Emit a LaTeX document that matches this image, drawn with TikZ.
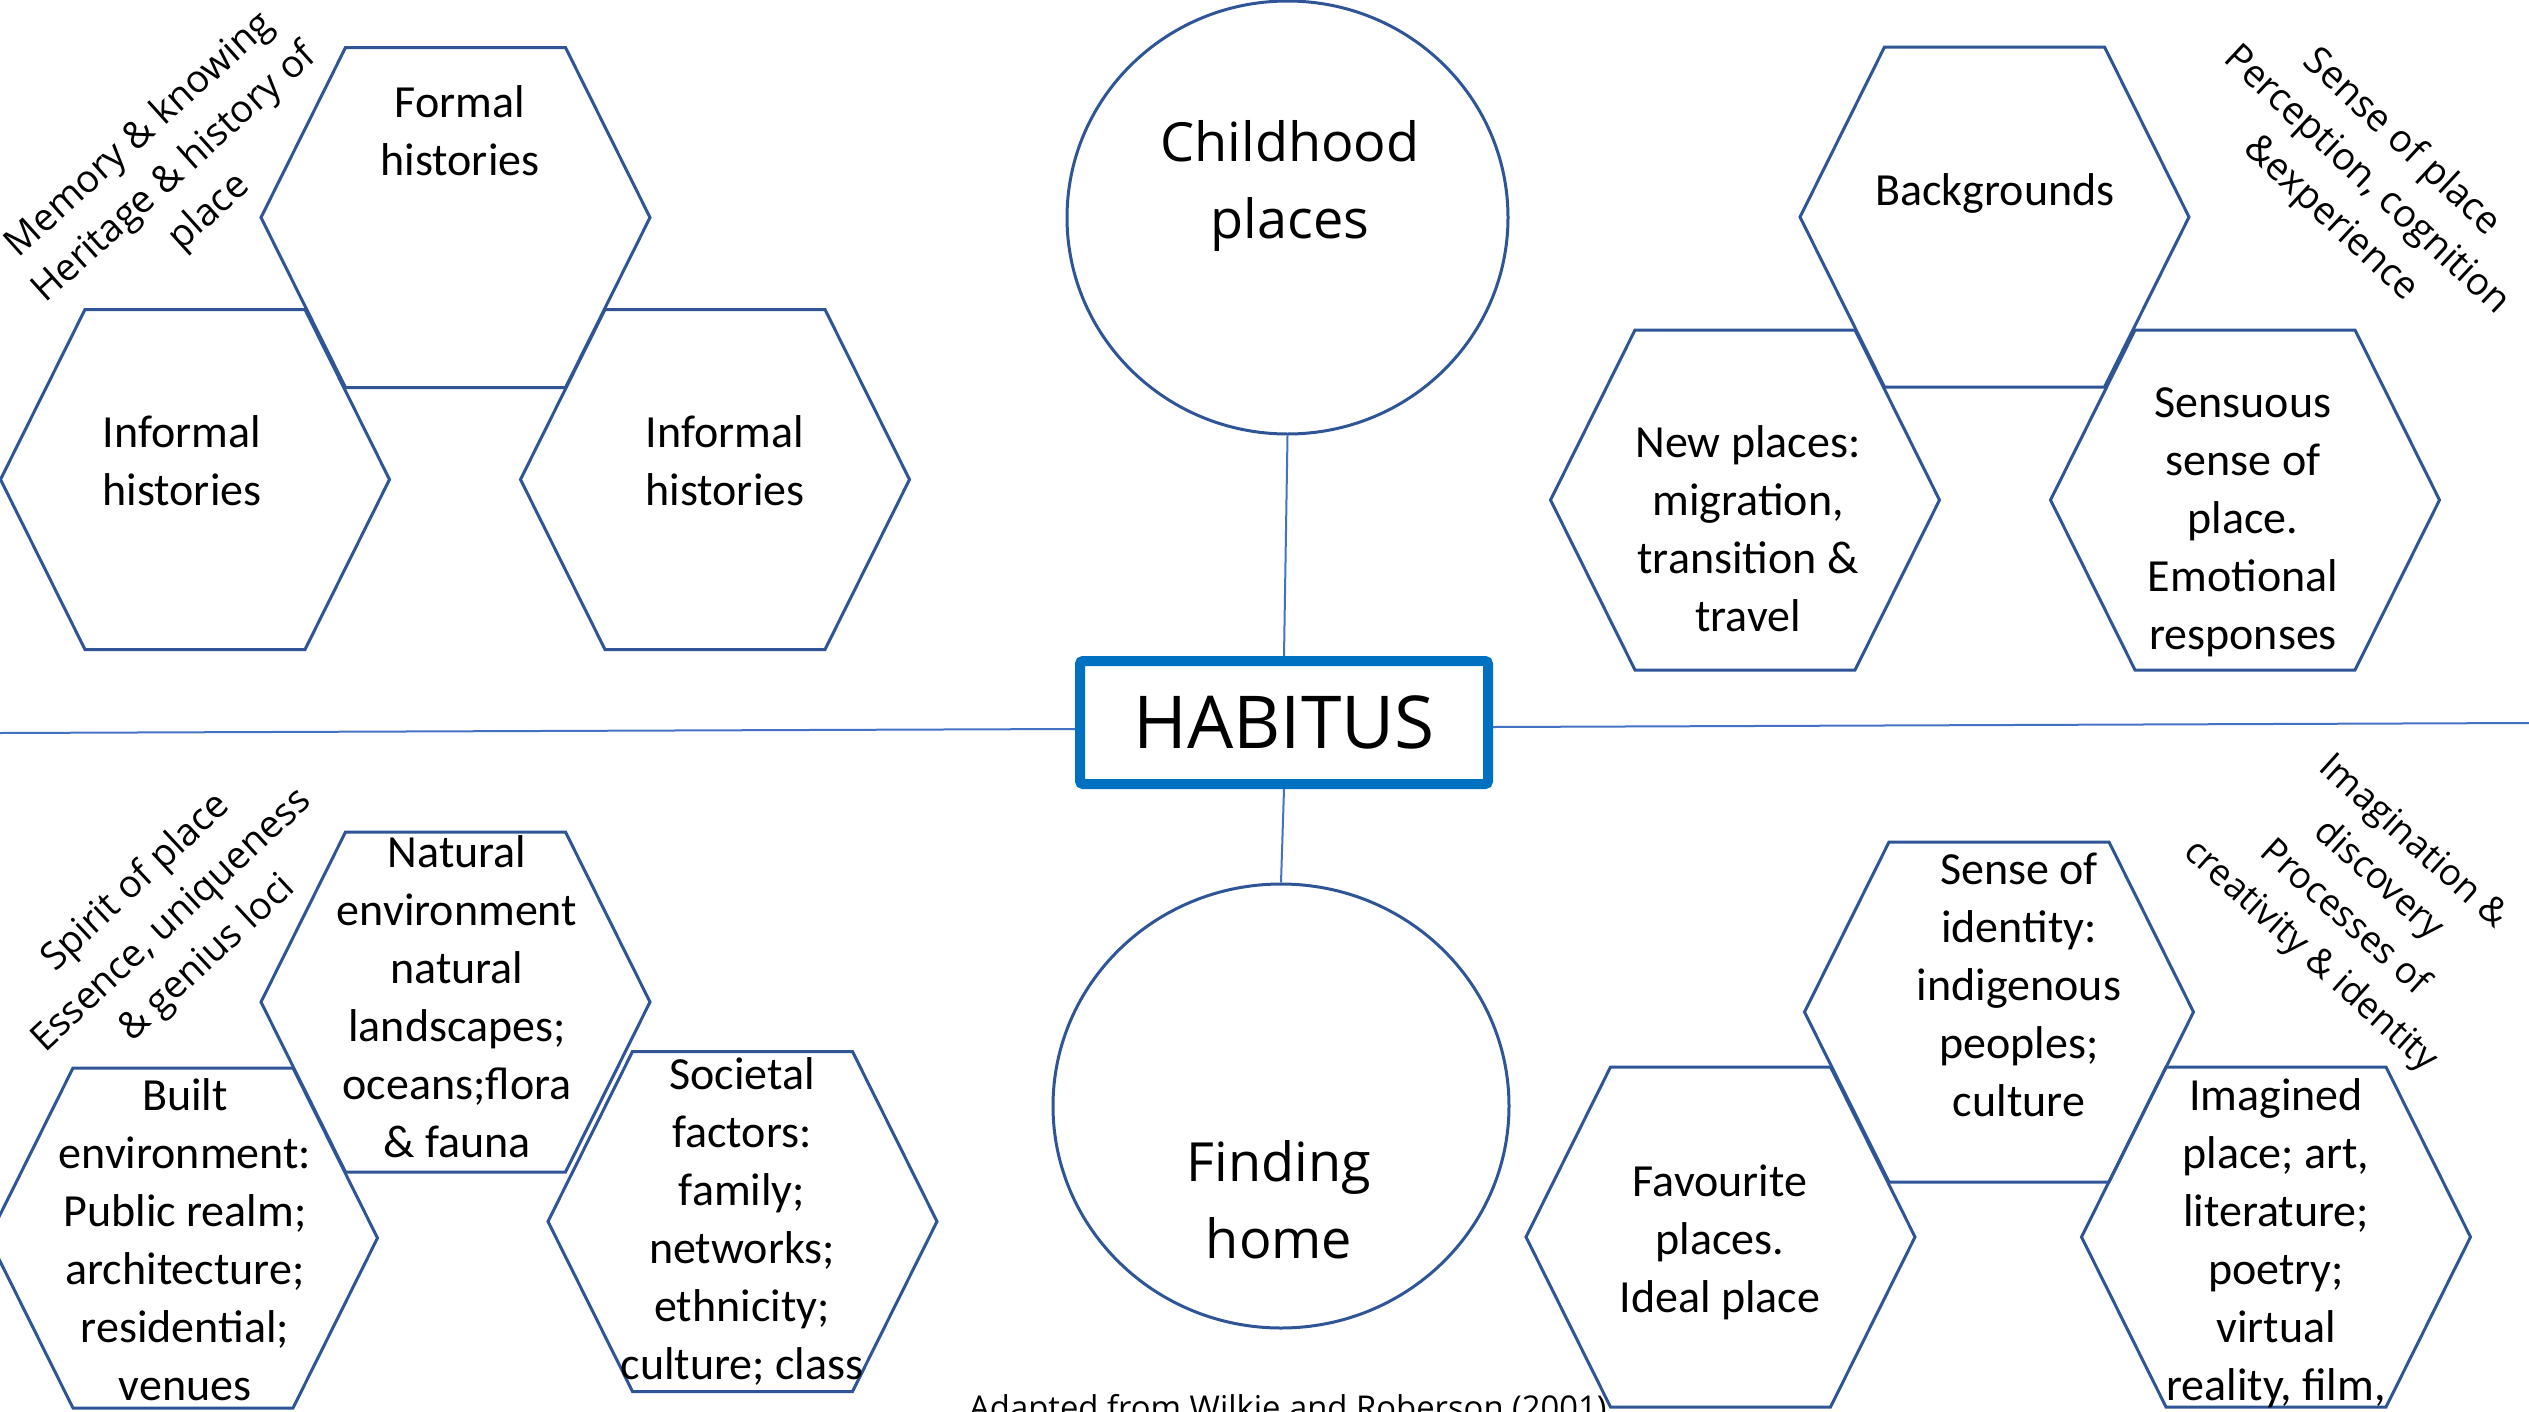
\documentclass[tikz,border=0pt]{standalone}
\usepackage{fontspec}
\setmainfont{Carlito}
\newfontfamily\segoe{Open Sans}
\usetikzlibrary{shapes.geometric}

\definecolor{hexblue}{HTML}{2F5597}
\definecolor{linkblue}{HTML}{4472C4}
\definecolor{habblue}{HTML}{0070C0}

\begin{document}
\begin{tikzpicture}[x=1pt,y=-1pt,
  hexline/.style={draw=hexblue, line width=3pt, line join=miter},
  hextext/.style={align=center, font=\fontsize{46}{58}\selectfont, inner sep=0pt},
  tagtext/.style={align=center, font=\segoe\fontsize{38}{52}\selectfont, inner sep=0pt},
  bigtext/.style={align=center, font=\segoe\fontsize{54}{77}\selectfont, inner sep=0pt},
  circ/.style={ellipse, draw=hexblue, line width=3pt, inner sep=0pt},
  link/.style={draw=linkblue, line width=2pt},
  hexa/.pic={\draw[hexline] (-194.5,0) -- (-110,170) -- (110,170) -- (194.5,0) -- (110,-170) -- (-110,-170) -- cycle;}
]
\useasboundingbox (0,0) rectangle (2529,1411);
\fill[white] (0,0) rectangle (2529,1411);

% ---------- hexagons ----------
\pic at (455.5,217.5) {hexa};   % formal
\pic at (195,479.5) {hexa};     % informal left
\pic at (715,479.5) {hexa};     % informal right
\pic at (1994.5,217) {hexa};    % backgrounds
\pic at (1745,500) {hexa};      % new places
\pic at (2245,500) {hexa};      % sensuous
\pic at (455.5,1002) {hexa};    % natural
\pic at (183,1238) {hexa};      % built
\pic at (742.5,1221.5) {hexa};  % societal
\pic at (1999,1012) {hexa};     % identity
\pic at (1720.5,1237) {hexa};   % favourite
\pic at (2276,1237) {hexa};     % imagined

% ---------- hexagon texts ----------
\node[hextext] (formal) at (460,131) {Formal\\histories};
\node[hextext] (infl) at (182,461) {Informal\\histories};
\node[hextext] (infr) at (725,461) {Informal\\histories};
\node[hextext] (backgr) at (1995,193) {Backgrounds};
\node[hextext] (newpl) at (1748,529) {New places:\\migration,\\transition \&\\travel};
\node[hextext] (sensu) at (2243,522) {Sensuous\\sense of\\place.\\Emotional\\responses};
\node[hextext] (natur) at (457,997) {Natural\\environment\\natural\\landscapes;\\oceans;flora\\\& fauna};
\node[hextext] (built) at (185,1240) {Built\\environment:\\Public realm;\\architecture;\\residential;\\venues};
\node[hextext] (socie) at (742,1221) {Societal\\factors:\\family;\\networks;\\ethnicity;\\culture; class};
\node[hextext] (ident) at (2019,985) {Sense of\\identity:\\indigenous\\peoples;\\culture};
\node[hextext] (favou) at (1720,1242) {Favourite\\places.\\Ideal place};
\node[hextext] (imagi) at (2276,1243) {Imagined\\place; art,\\literature;\\poetry;\\virtual\\reality, film,};

% ---------- rotated labels ----------
\node[tagtext, rotate=42] (tagmem) at (175,174) {Memory \& knowing\\Heritage \& history of\\place};
\node[tagtext, rotate=-43] (tagsense) at (2366,181) {Sense of place\\Perception, cognition\\\&experience};
\node[tagtext, rotate=43] (tagspirit) at (172,921) {Spirit of place\\Essence, uniqueness\\\& genius loci};
\node[tagtext, rotate=-42, font=\segoe\fontsize{36.5}{51}\selectfont] (tagimag) at (2361,900) {Imagination \&\\discovery\\Processes of\\creativity \& identity};

% ---------- centre ----------
\node[circ, minimum width=441pt, minimum height=433pt] (childhood) at (1287.5,217.5) {};
\node[bigtext] (childtxt) at (1290,186) {Childhood\\places};
\node[circ, minimum width=456pt, minimum height=444pt] (finding) at (1281,1106) {};
\node[bigtext] (findtxt) at (1279,1200) {Finding\\home};

\node[draw=habblue, line width=10pt, rounded corners=3pt, minimum width=408pt, minimum height=123pt,
      inner sep=0pt, font=\segoe\fontsize{73}{80}\selectfont] (habitus) at (1284,722.5) {HABITUS};

\coordinate (lend) at (0,733);
\coordinate (rend) at (2529,723);
\draw[link] (lend) -- ([yshift=-6.5pt]habitus.west);
\draw[link] ([yshift=-4.5pt]habitus.east) -- (rend);
\draw[link] (childhood.south) -- (habitus.north);
\draw[link] (habitus.south) -- (finding.north);

% ---------- footer ----------
\node[anchor=north west, inner sep=0pt, font=\segoe\fontsize{32.8}{38}\selectfont] (footer) at (969,1394) {Adapted from Wilkie and Roberson (2001)};
\end{tikzpicture}
\end{document}
